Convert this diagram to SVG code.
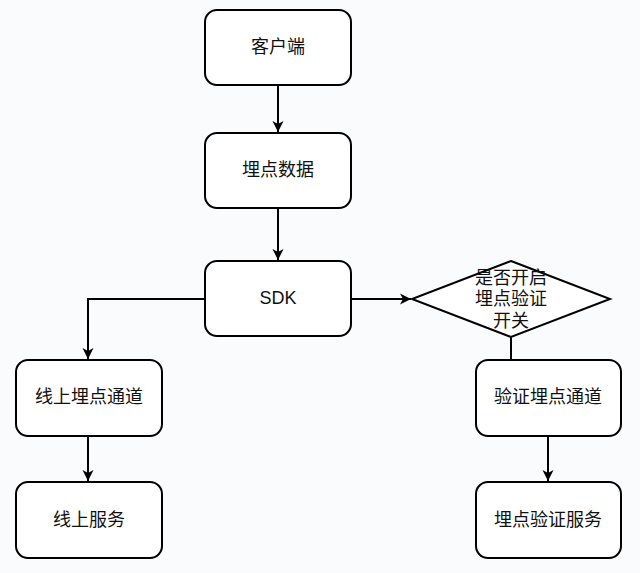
<svg xmlns="http://www.w3.org/2000/svg" width="640" height="573" viewBox="0 0 640 573">
<style>
.box{fill:#fff;stroke:#000;stroke-width:2}
.t{font-family:"Liberation Sans","Noto Sans CJK SC",sans-serif;font-size:18px;fill:#111;text-anchor:middle;dominant-baseline:central}
.c{fill:none;stroke:#000;stroke-width:2}
</style>
<defs>
<marker id="ah" markerWidth="12" markerHeight="12" refX="11" refY="6" orient="auto" markerUnits="userSpaceOnUse">
<path d="M0,0.5 L11,6 L0,11.5 L3,6 Z" fill="#000"/>
</marker>
</defs>
<rect width="640" height="573" fill="#fafbfc"/>
<g id="connectors">
<path class="c" d="M278,85 V132" marker-end="url(#ah)"/>
<path class="c" d="M278,208 V260" marker-end="url(#ah)"/>
<path class="c" d="M351,299 H411" marker-end="url(#ah)"/>
<path class="c" d="M205,299 H88 V359" marker-end="url(#ah)"/>
<path class="c" d="M88,436 V481" marker-end="url(#ah)"/>
<path class="c" d="M511,337 V360"/>
<path class="c" d="M548,436 V481" marker-end="url(#ah)"/>
</g>
<g id="client"><rect class="box" x="205" y="10" width="146" height="75" rx="12"/><text class="t" x="278" y="47">客户端</text></g>
<g id="data"><rect class="box" x="205" y="133" width="146" height="75" rx="12"/><text class="t" x="278" y="170">埋点数据</text></g>
<g id="sdk"><rect class="box" x="205" y="261" width="146" height="75" rx="12"/><text class="t" x="278" y="298">SDK</text></g>
<g id="switch"><polygon class="box" points="511,261 610,299 511,337 412,299"/><text class="t" x="511" y="278">是否开启</text><text class="t" x="511" y="299">埋点验证</text><text class="t" x="511" y="321">开关</text></g>
<g id="online-channel"><rect class="box" x="16" y="360" width="146" height="76" rx="12"/><text class="t" x="89" y="397">线上埋点通道</text></g>
<g id="verify-channel"><rect class="box" x="476" y="360" width="145" height="76" rx="12"/><text class="t" x="548" y="397">验证埋点通道</text></g>
<g id="online-service"><rect class="box" x="16" y="482" width="146" height="76" rx="12"/><text class="t" x="89" y="520">线上服务</text></g>
<g id="verify-service"><rect class="box" x="476" y="482" width="145" height="76" rx="12"/><text class="t" x="548" y="520">埋点验证服务</text></g>
</svg>
